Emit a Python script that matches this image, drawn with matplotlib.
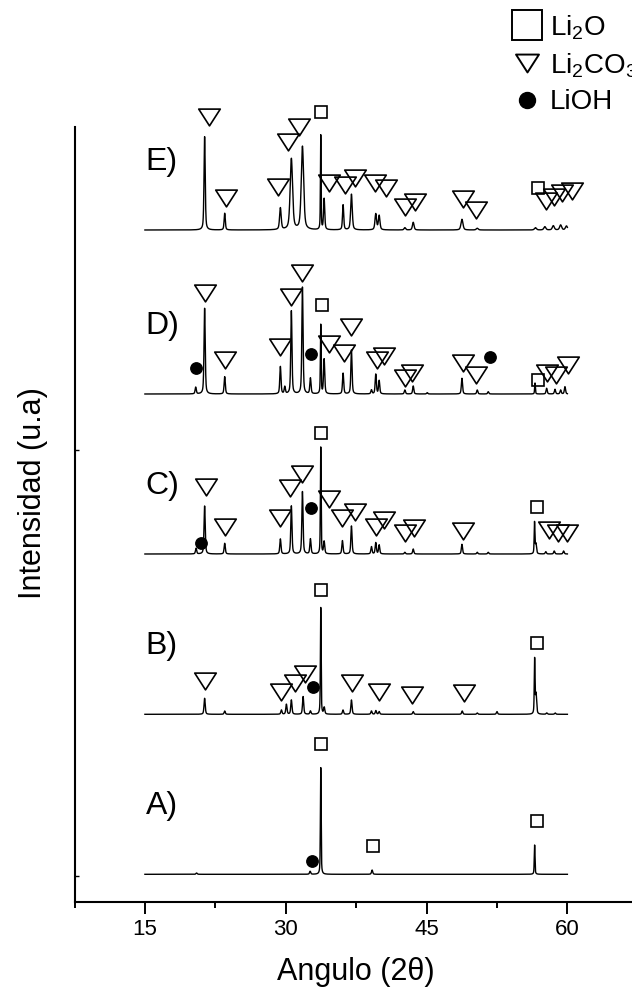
import numpy as np
import matplotlib
matplotlib.use("Agg")
import matplotlib.pyplot as plt
from matplotlib.path import Path
from matplotlib.lines import Line2D

plt.rcParams['font.family'] = ['Liberation Sans', 'DejaVu Sans']
plt.rcParams['mathtext.fontset'] = 'custom'
plt.rcParams['mathtext.rm'] = 'Liberation Sans'
plt.rcParams['mathtext.it'] = 'Liberation Sans:italic'
plt.rcParams['mathtext.default'] = 'regular'

# ---------------------------------------------------------------- data
scan_start, scan_end = 15.0, 60.0          # measured 2θ range
li2o_lines = [33.73, 56.5]                 # sharp Li2O reflections

sample_labels = ['A)', 'B)', 'C)', 'D)', 'E)']
offsets = [27.4, 187.4, 347.7, 507.7, 671.7]   # vertical stacking (a.u.)

# reflections: position (2θ) and height above the baseline (a.u.)
peaks_A_pos = [20.5, 32.6, 33.73, 39.2, 56.51]
peaks_A_h = [1.3, 3.0, 106.7, 4.3, 29.3]

peaks_B_pos = [21.36, 23.5, 29.54, 30.07, 30.6, 31.85, 32.63, 33.73, 34.1,
               36.1, 37.0, 39.13, 39.6, 39.95, 43.58, 48.8, 50.4, 52.5,
               56.51, 56.66, 57.8, 58.7]
peaks_B_h = [16, 3.3, 4.3, 10, 14.3, 17.7, 3.3, 106.7, 6.7,
             4.3, 14.3, 3.3, 3.7, 2.7, 2.7, 3.3, 1.3, 2.7,
             54.3, 20, 1.3, 1.3]

peaks_C_pos = [20.45, 21.36, 23.5, 29.43, 30.6, 31.78, 32.63, 33.73, 34.09,
               36.04, 37.0, 39.13, 39.59, 39.95, 42.69, 43.58, 48.77, 50.4,
               51.57, 56.5, 56.65, 57.7, 58.6, 59.6]
peaks_C_h = [5.7, 48, 10.7, 15, 48, 62.3, 15, 106.7, 12.3,
             13.3, 28, 7.3, 11.3, 9, 1.7, 5, 9.7, 1.7,
             1.7, 31.3, 10, 2.3, 3, 3]

peaks_D_pos = [20.41, 21.36, 23.5, 29.43, 29.9, 30.6, 31.78, 32.63, 33.73,
               34.09, 36.11, 37.0, 39.13, 39.59, 39.95, 42.69, 43.58, 45.07,
               48.77, 50.4, 51.57, 56.55, 57.79, 58.68, 59.28, 59.74]
peaks_D_h = [6.7, 85.7, 17.3, 27.3, 7, 83, 106.7, 15.7, 69,
             34.7, 20.7, 44, 4, 19.7, 13.3, 4, 8, 1.3,
             15.7, 4, 2.3, 11, 5.7, 4.7, 4, 7.3]

peaks_E_pos = [21.36, 23.5, 29.43, 30.6, 31.78, 33.73, 34.09, 36.11, 37.0,
               39.59, 39.95, 42.69, 43.58, 48.77, 50.4, 56.6, 57.6, 58.5,
               59.28, 59.9]
peaks_E_h = [93.3, 16.7, 21.7, 71, 83.3, 94.3, 31, 25, 35.7,
             16, 14.3, 2.3, 7.7, 10.7, 1.7, 2.3, 3.3, 4.3,
             5, 4]
peaks_E_fwhm = [0.15, 0.15, 0.2, 0.3, 0.3, 0.08, 0.15, 0.15, 0.2,
                0.2, 0.2, 0.2, 0.2, 0.25, 0.25, 0.25, 0.25, 0.25,
                0.25, 0.25]

# phase markers: Li2CO3 (triangles), Li2O (squares), LiOH (dots)
tri_B_x = [21.44, 29.54, 30.96, 32.03, 37.07, 39.91, 43.47, 49.01]
tri_B_y = [220.7, 209.4, 218.4, 227.4, 218.4, 209.4, 206.7, 208.4]
tri_C_x = [21.47, 23.5, 29.43, 30.5, 31.75, 34.59, 36.01, 37.43, 39.59,
           40.48, 42.69, 43.65, 48.84, 58.07, 59.03, 59.92]
tri_C_y = [415, 374.4, 383.4, 413.4, 427.7, 402.7, 383.4, 390, 374.4,
           381.7, 368.4, 373.4, 370.7, 371.7, 368.4, 368.4]
tri_D_x = [21.36, 23.5, 29.43, 30.6, 31.78, 34.62, 36.18, 37.0, 39.74,
           40.48, 42.69, 43.40, 48.84, 50.26, 57.79, 58.79, 60.10]
tri_D_y = [609, 541.7, 555, 605, 628.4, 557.4, 548.4, 574.4, 541.7,
           545.7, 524, 529, 538.4, 526.7, 529, 526.7, 536.7]
tri_E_x = [21.79, 23.6, 29.18, 30.25, 31.42, 34.62, 36.29, 37.36, 39.49,
           40.73, 42.69, 43.75, 48.84, 50.26, 57.7, 58.6, 59.4, 60.45]
tri_E_y = [785, 703.4, 715, 760, 775, 718.4, 716.7, 723.4, 718.4,
           713.4, 694.5, 700, 702.4, 691.7, 701, 705, 708.5, 711]

sq_x = [33.8, 39.3, 56.79, 33.8, 56.79, 33.8, 56.79, 33.84, 56.83, 33.8, 56.85]
sq_y = [157.4, 55.7, 80.7, 311.7, 258.4, 469, 394.4, 596.7, 521.7, 790, 714]

dot_x = [32.81, 32.91, 20.94, 32.74, 20.41, 32.67, 51.75]
dot_y = [40.7, 215, 359, 394, 533.4, 547.4, 545]

legend_labels = [r'Li$_2$O', r'Li$_2$CO$_3$', 'LiOH']


# ---------------------------------------------------------------- helpers
def profile(two_theta, pos, heights, fwhm=None, default_fwhm=0.15):
    """Sum of pseudo-Voigt reflections."""
    y = np.zeros_like(two_theta)
    for i, (p, h) in enumerate(zip(pos, heights)):
        if fwhm is not None:
            w = fwhm[i]
        elif min(abs(p - l) for l in li2o_lines) < 0.1:
            w = 0.09
        else:
            w = default_fwhm
        d = (two_theta - p) / w
        y += h * (0.5 * np.exp(-4 * np.log(2) * d ** 2) + 0.5 / (1 + 4 * d ** 2))
    return y


two_theta = np.linspace(scan_start, scan_end, 4501)
patterns = [
    profile(two_theta, peaks_A_pos, peaks_A_h),
    profile(two_theta, peaks_B_pos, peaks_B_h),
    profile(two_theta, peaks_C_pos, peaks_C_h),
    profile(two_theta, peaks_D_pos, peaks_D_h),
    profile(two_theta, peaks_E_pos, peaks_E_h, fwhm=peaks_E_fwhm),
]

# open downward triangle, slightly flattened
tri_marker = Path([(-1, 0.78), (1, 0.78), (0, -0.78), (-1, 0.78)],
                  [Path.MOVETO, Path.LINETO, Path.LINETO, Path.CLOSEPOLY])

# ---------------------------------------------------------------- figure
fig = plt.figure(figsize=(6.32, 9.91), dpi=100)
ax = fig.add_axes([74.5 / 632, 89.3 / 991, (637.8 - 74.5) / 632, 774.7 / 991])

for y, off in zip(patterns, offsets):
    ax.plot(two_theta, y + off, color='black', lw=1.0)

for lab, off in zip(sample_labels, offsets):
    ax.text(15.1, off + 60, lab, fontsize=23, ha='left', va='baseline')

tri_style = dict(ls='none', marker=tri_marker, ms=15.5, mfc='none',
                 mec='black', mew=1.2, clip_on=False)
for tx, ty in [(tri_B_x, tri_B_y), (tri_C_x, tri_C_y),
               (tri_D_x, tri_D_y), (tri_E_x, tri_E_y)]:
    ax.plot(tx, ty, **tri_style)
ax.plot(sq_x, sq_y, ls='none', marker='s', ms=8.8, mfc='none', mec='black',
        mew=1.2, clip_on=False)
ax.plot(dot_x, dot_y, ls='none', marker='o', ms=8.2, mfc='black',
        mec='black', clip_on=False)

ax.set_xlim(7.5, 67.5)
ax.set_ylim(0, 774.7)
ax.set_xticks([15, 30, 45, 60])
ax.set_xticks([7.5, 22.5, 37.5, 52.5, 67.5], minor=True)
ax.set_yticks([26, 452])
ax.set_yticklabels([])
ax.tick_params(axis='x', which='major', direction='out', length=8.3,
               width=1.4, pad=4.3, labelsize=16)
ax.tick_params(axis='x', which='minor', direction='out', length=4.6, width=1.4)
ax.tick_params(axis='y', direction='in', length=3, width=1.0)
for side in ('top', 'right'):
    ax.spines[side].set_visible(False)
for side in ('left', 'bottom'):
    ax.spines[side].set_linewidth(1.5)

ax.set_xlabel('Angulo (2θ)', fontsize=22, labelpad=12)
ax.set_ylabel('Intensidad (u.a)', fontsize=22)
ax.yaxis.set_label_coords(-0.047, 0.528)

handles = [
    Line2D([], [], ls='none', marker='s', ms=21, mfc='none', mec='black', mew=1.4),
    Line2D([], [], ls='none', marker=tri_marker, ms=16.5, mfc='none',
           mec='black', mew=1.4),
    Line2D([], [], ls='none', marker='o', ms=11.5, mfc='black', mec='black'),
]
fig.legend(handles, legend_labels, loc='upper left',
           bbox_to_anchor=(511.7 / 632, 1 - 13 / 991), frameon=False,
           fontsize=20, handlelength=1.1, handletextpad=0.28, borderpad=0,
           borderaxespad=0, labelspacing=0.35)

fig.savefig('out.png', dpi=100)
